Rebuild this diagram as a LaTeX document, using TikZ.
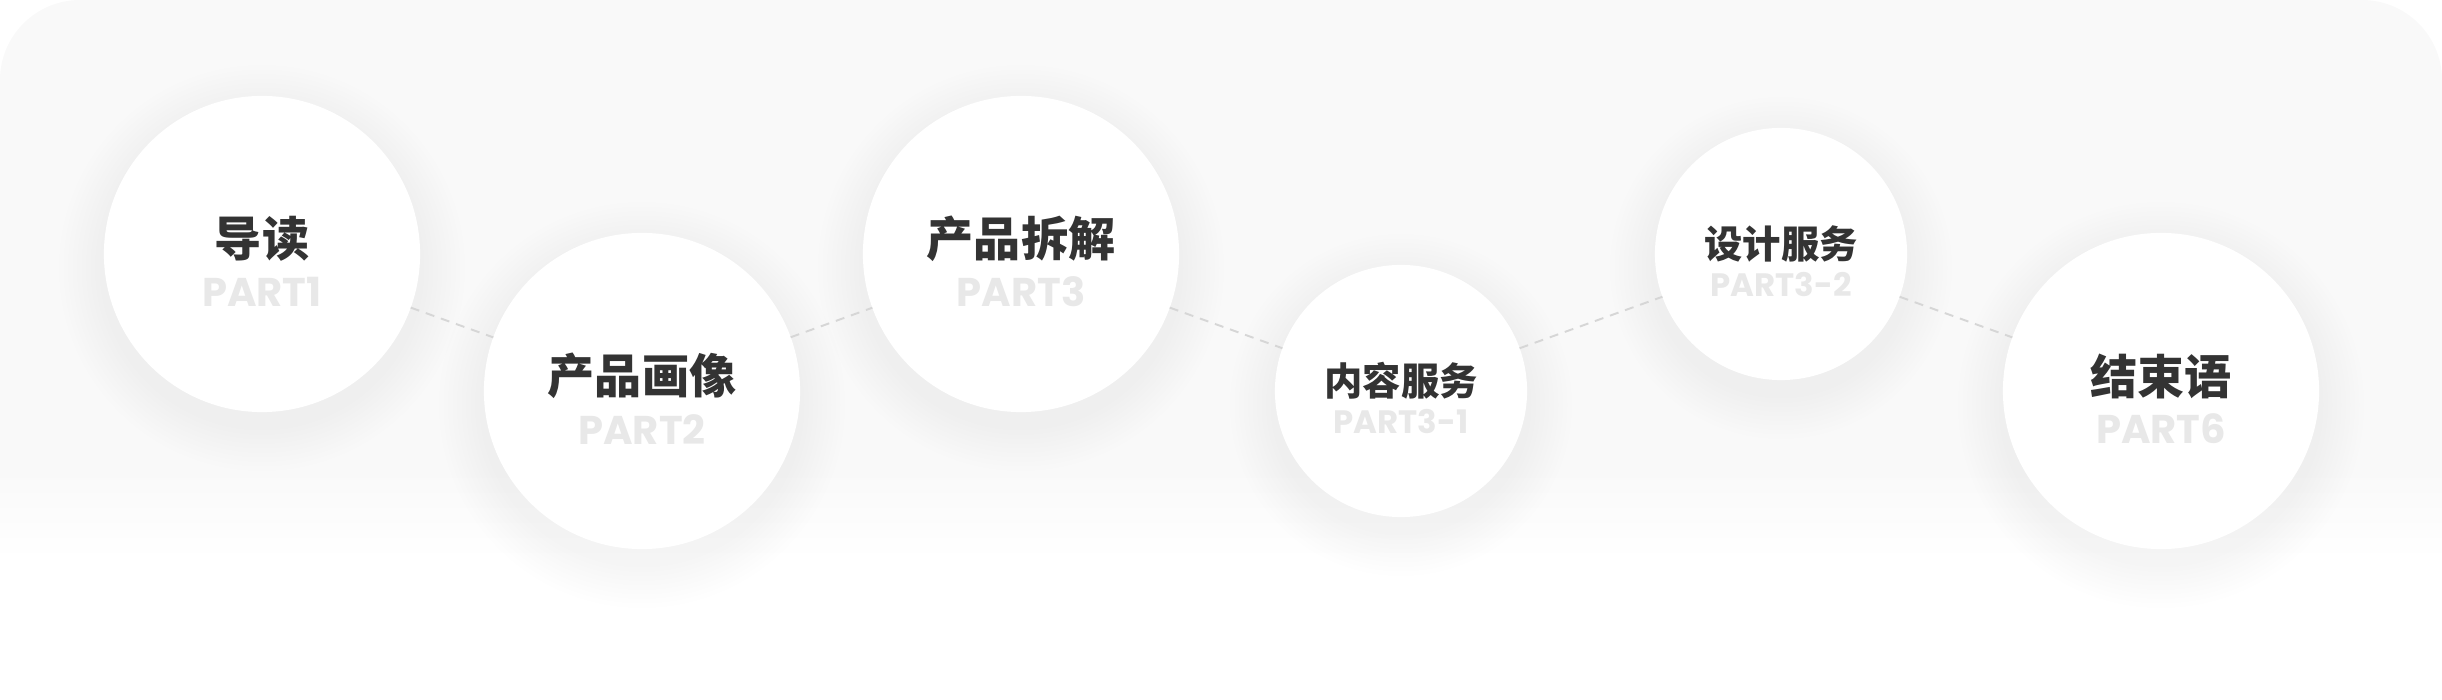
\documentclass[tikz,border=0pt]{standalone}
\usepackage{fontspec}
\usepackage{xcolor}
\usepackage{tikz}
\usetikzlibrary{%
  positioning,
  backgrounds}
\newfontfamily\cjk{Noto Sans CJK SC}
\newfontfamily\partfont{Poppins}
\definecolor{bggray}{HTML}{F9F9F9}
\definecolor{titlegray}{HTML}{333333}
\definecolor{partgray}{HTML}{E8E8E8}
\definecolor{linegray}{HTML}{D6D6D6}
\tikzset{
  %% Chapter circles
  bigdisc/.style={
    circle, fill=white,
    minimum size=3.16cm, inner sep=0pt, outer sep=0pt},
  smalldisc/.style={
    circle, fill=white,
    minimum size=2.52cm, inner sep=0pt, outer sep=0pt},
  %% Chapter titles
  bigtitle/.style={
    inner sep=0pt, text=titlegray,
    font=\cjk\bfseries\fontsize{13.4pt}{16pt}\selectfont},
  smalltitle/.style={
    inner sep=0pt, text=titlegray,
    font=\cjk\bfseries\fontsize{10.9pt}{13pt}\selectfont},
  %% PART tags
  bigpart/.style={
    inner sep=0pt, text=partgray,
    font=\partfont\bfseries\fontsize{11.4pt}{13pt}\selectfont},
  smallpart/.style={
    inner sep=0pt, text=partgray,
    font=\partfont\bfseries\fontsize{9.2pt}{11pt}\selectfont},
  %% Dashed links
  link/.style={draw=linegray, line width=0.55pt, dash pattern=on 0.09cm off 0.07cm},
}

\begin{document}
\begin{tikzpicture}[x=0.01cm, y=0.01cm]

  \useasboundingbox (0,0) rectangle (2442,700);

  %% Circles
  \node[bigdisc]   (intro)   at (262,446)  {};
  \node[bigdisc]   (persona) at (642,309)  {};
  \node[bigdisc]   (split)   at (1021,446) {};
  \node[smalldisc] (content) at (1401,309) {};
  \node[smalldisc] (design)  at (1781,446) {};
  \node[bigdisc]   (outro)   at (2161,309) {};

  %% Titles and tags
  \node[bigtitle]   (introT)   at ([yshift=0.15cm]intro.center)    {导读};
  \node[bigpart]    (introP)   at ([yshift=-0.38cm]intro.center)   {PART1};
  \node[bigtitle]   (personaT) at ([yshift=0.15cm]persona.center)  {产品画像};
  \node[bigpart]    (personaP) at ([yshift=-0.39cm]persona.center) {PART2};
  \node[bigtitle]   (splitT)   at ([yshift=0.15cm]split.center)    {产品拆解};
  \node[bigpart]    (splitP)   at ([yshift=-0.38cm]split.center)   {PART3};
  \node[smalltitle] (contentT) at ([yshift=0.10cm]content.center)  {内容服务};
  \node[smallpart]  (contentP) at ([yshift=-0.31cm]content.center) {PART3-1};
  \node[smalltitle] (designT)  at ([yshift=0.10cm]design.center)   {设计服务};
  \node[smallpart]  (designP)  at ([yshift=-0.31cm]design.center)  {PART3-2};
  \node[bigtitle]   (outroT)   at ([yshift=0.15cm]outro.center)    {结束语};
  \node[bigpart]    (outroP)   at ([yshift=-0.38cm]outro.center)   {PART6};

  %% Dashed links
  \draw[link] (intro)   -- (persona);
  \draw[link] (persona) -- (split);
  \draw[link] (split)   -- (content);
  \draw[link] (content) -- (design);
  \draw[link] (design)  -- (outro);

  %% Backdrop and soft shadows
  \begin{pgfonlayer}{background}
    \fill[bggray] (0,230) -- (0,620) arc[start angle=180, end angle=90, radius=80]
      -- (2362,700) arc[start angle=90, end angle=0, radius=80] -- (2442,230) -- cycle;
    \shade[top color=bggray, bottom color=white] (0,140) rectangle (2442,230.5);
    \foreach \c/\r in {intro/158, persona/158, split/158, content/126, design/126, outro/158}
      \foreach \k in {1,...,10}
        \fill[black, opacity=0.005] ([yshift=-0.14cm]\c.center) circle ({\r+\k*4.5});
  \end{pgfonlayer}

\end{tikzpicture}
\end{document}
